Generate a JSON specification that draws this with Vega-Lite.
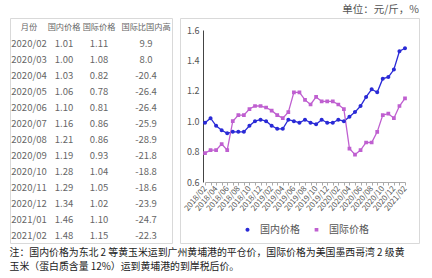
{
  "$schema": "https://vega.github.io/schema/vega-lite/v6.json",
  "padding": {"left": 9, "top": 4, "right": 0, "bottom": 0},
  "background": "white",
  "config": {
    "font": "Noto Sans CJK SC",
    "view": {"stroke": "#d9d9d9", "strokeWidth": 1}
  },
  "title": {
    "text": ["注：国内价格为东北 2 等黄玉米运到广州黄埔港的平仓价，国际价格为美国墨西哥湾 2 级黄", "玉米（蛋白质含量 12%）运到黄埔港的到岸税后价。"],
    "orient": "bottom", "anchor": "start", "fontSize": 9.9, "fontWeight": "normal",
    "color": "#222", "lineHeight": 14, "offset": 4, "font": "Noto Sans CJK SC"
  },
  "datasets": {
    "table": [
      {"month": "月份", "domestic": "国内价格", "intl": "国际价格", "diff": "国际比国内高"},
      {"month": "2020/02", "domestic": "1.01", "intl": "1.11", "diff": "9.9"},
      {"month": "2020/03", "domestic": "1.00", "intl": "1.08", "diff": "8.0"},
      {"month": "2020/04", "domestic": "1.03", "intl": "0.82", "diff": "-20.4"},
      {"month": "2020/05", "domestic": "1.06", "intl": "0.78", "diff": "-26.4"},
      {"month": "2020/06", "domestic": "1.10", "intl": "0.81", "diff": "-26.4"},
      {"month": "2020/07", "domestic": "1.16", "intl": "0.86", "diff": "-25.9"},
      {"month": "2020/08", "domestic": "1.21", "intl": "0.86", "diff": "-28.9"},
      {"month": "2020/09", "domestic": "1.19", "intl": "0.93", "diff": "-21.8"},
      {"month": "2020/10", "domestic": "1.28", "intl": "1.04", "diff": "-18.8"},
      {"month": "2020/11", "domestic": "1.29", "intl": "1.05", "diff": "-18.6"},
      {"month": "2020/12", "domestic": "1.34", "intl": "1.02", "diff": "-23.9"},
      {"month": "2021/01", "domestic": "1.46", "intl": "1.10", "diff": "-24.7"},
      {"month": "2021/02", "domestic": "1.48", "intl": "1.15", "diff": "-22.3"}
    ],
    "prices": [
      {"month": "2018/02", "series": "国内价格", "price": 0.99},
      {"month": "2018/03", "series": "国内价格", "price": 1.02},
      {"month": "2018/04", "series": "国内价格", "price": 0.97},
      {"month": "2018/05", "series": "国内价格", "price": 0.94},
      {"month": "2018/06", "series": "国内价格", "price": 0.92},
      {"month": "2018/07", "series": "国内价格", "price": 0.93},
      {"month": "2018/08", "series": "国内价格", "price": 0.93},
      {"month": "2018/09", "series": "国内价格", "price": 0.93},
      {"month": "2018/10", "series": "国内价格", "price": 0.97},
      {"month": "2018/11", "series": "国内价格", "price": 1.00},
      {"month": "2018/12", "series": "国内价格", "price": 1.01},
      {"month": "2019/01", "series": "国内价格", "price": 1.00},
      {"month": "2019/02", "series": "国内价格", "price": 0.97},
      {"month": "2019/03", "series": "国内价格", "price": 0.95},
      {"month": "2019/04", "series": "国内价格", "price": 0.95},
      {"month": "2019/05", "series": "国内价格", "price": 1.01},
      {"month": "2019/06", "series": "国内价格", "price": 1.00},
      {"month": "2019/07", "series": "国内价格", "price": 0.99},
      {"month": "2019/08", "series": "国内价格", "price": 1.01},
      {"month": "2019/09", "series": "国内价格", "price": 0.99},
      {"month": "2019/10", "series": "国内价格", "price": 0.98},
      {"month": "2019/11", "series": "国内价格", "price": 1.01},
      {"month": "2019/12", "series": "国内价格", "price": 0.99},
      {"month": "2020/01", "series": "国内价格", "price": 0.99},
      {"month": "2020/02", "series": "国内价格", "price": 1.01},
      {"month": "2020/03", "series": "国内价格", "price": 1.00},
      {"month": "2020/04", "series": "国内价格", "price": 1.03},
      {"month": "2020/05", "series": "国内价格", "price": 1.06},
      {"month": "2020/06", "series": "国内价格", "price": 1.10},
      {"month": "2020/07", "series": "国内价格", "price": 1.16},
      {"month": "2020/08", "series": "国内价格", "price": 1.21},
      {"month": "2020/09", "series": "国内价格", "price": 1.19},
      {"month": "2020/10", "series": "国内价格", "price": 1.28},
      {"month": "2020/11", "series": "国内价格", "price": 1.29},
      {"month": "2020/12", "series": "国内价格", "price": 1.34},
      {"month": "2021/01", "series": "国内价格", "price": 1.46},
      {"month": "2021/02", "series": "国内价格", "price": 1.48},
      {"month": "2018/02", "series": "国际价格", "price": 0.79},
      {"month": "2018/03", "series": "国际价格", "price": 0.81},
      {"month": "2018/04", "series": "国际价格", "price": 0.81},
      {"month": "2018/05", "series": "国际价格", "price": 0.85},
      {"month": "2018/06", "series": "国际价格", "price": 0.81},
      {"month": "2018/07", "series": "国际价格", "price": 1.00},
      {"month": "2018/08", "series": "国际价格", "price": 1.04},
      {"month": "2018/09", "series": "国际价格", "price": 1.04},
      {"month": "2018/10", "series": "国际价格", "price": 1.08},
      {"month": "2018/11", "series": "国际价格", "price": 1.10},
      {"month": "2018/12", "series": "国际价格", "price": 1.10},
      {"month": "2019/01", "series": "国际价格", "price": 1.09},
      {"month": "2019/02", "series": "国际价格", "price": 1.07},
      {"month": "2019/03", "series": "国际价格", "price": 1.04},
      {"month": "2019/04", "series": "国际价格", "price": 1.02},
      {"month": "2019/05", "series": "国际价格", "price": 1.06},
      {"month": "2019/06", "series": "国际价格", "price": 1.19},
      {"month": "2019/07", "series": "国际价格", "price": 1.19},
      {"month": "2019/08", "series": "国际价格", "price": 1.14},
      {"month": "2019/09", "series": "国际价格", "price": 1.11},
      {"month": "2019/10", "series": "国际价格", "price": 1.16},
      {"month": "2019/11", "series": "国际价格", "price": 1.13},
      {"month": "2019/12", "series": "国际价格", "price": 1.13},
      {"month": "2020/01", "series": "国际价格", "price": 1.13},
      {"month": "2020/02", "series": "国际价格", "price": 1.11},
      {"month": "2020/03", "series": "国际价格", "price": 1.08},
      {"month": "2020/04", "series": "国际价格", "price": 0.82},
      {"month": "2020/05", "series": "国际价格", "price": 0.78},
      {"month": "2020/06", "series": "国际价格", "price": 0.81},
      {"month": "2020/07", "series": "国际价格", "price": 0.86},
      {"month": "2020/08", "series": "国际价格", "price": 0.86},
      {"month": "2020/09", "series": "国际价格", "price": 0.93},
      {"month": "2020/10", "series": "国际价格", "price": 1.04},
      {"month": "2020/11", "series": "国际价格", "price": 1.05},
      {"month": "2020/12", "series": "国际价格", "price": 1.02},
      {"month": "2021/01", "series": "国际价格", "price": 1.10},
      {"month": "2021/02", "series": "国际价格", "price": 1.15}
    ]
  },
  "spacing": 6,
  "hconcat": [
    {
      "width": 162,
      "height": 225,
      "title": {"text": " ", "fontSize": 10.5, "anchor": "end", "offset": 3},
      "data": {"name": "table"},
      "encoding": {
        "y": {"field": "month", "type": "ordinal", "sort": null,
              "scale": {"type": "point", "range": [10, 218], "padding": 0}, "axis": null},
        "size": {"condition": {"test": "datum.month === '月份'", "value": 8.2}, "value": 9.5}
      },
      "layer": [
        {
          "mark": {"type": "text", "color": "#666"},
          "encoding": {
            "x": {"datum": "月份", "type": "nominal",
                  "scale": {"type": "point", "domain": ["月份", "国内价格", "国际价格", "国际比国内高"], "range": [19, 136], "padding": 0},
                  "axis": null},
            "text": {"field": "month"}
          }
        },
        {
          "mark": {"type": "text", "color": "#666", "dx": -4},
          "encoding": {
            "x": {"datum": "国内价格", "type": "nominal"},
            "text": {"field": "domestic"}
          }
        },
        {
          "mark": {"type": "text", "color": "#666", "dx": -8},
          "encoding": {
            "x": {"datum": "国际价格", "type": "nominal"},
            "text": {"field": "intl"}
          }
        },
        {
          "mark": {"type": "text", "color": "#666"},
          "encoding": {
            "x": {"datum": "国际比国内高", "type": "nominal"},
            "text": {"field": "diff"}
          }
        }
      ]
    },
    {
      "width": 239,
      "height": 225,
      "title": {"text": "单位：元/斤，%", "anchor": "end", "fontSize": 10.5, "fontWeight": "normal", "color": "#555", "offset": 3},
      "data": {"name": "prices"},
      "encoding": {
        "x": {
          "field": "month", "type": "ordinal", "sort": null,
          "scale": {"type": "point", "range": [25, 225], "padding": 0},
          "axis": {
            "orient": "bottom", "offset": -61, "title": null, "labelAngle": -50,
            "labelFontSize": 8, "labelColor": "#555", "tickSize": 3, "tickColor": "#aaa",
            "domainColor": "#aaa", "labelOverlap": false, "grid": false, "labelPadding": 2,
            "labelExpr": "toNumber(slice(datum.value, 5)) % 2 == 0 ? datum.value : ''"
          }
        },
        "y": {
          "field": "price", "type": "quantitative",
          "scale": {"domain": [0.6, 1.6], "range": [164, 12], "nice": false, "zero": false},
          "axis": {
            "orient": "left", "offset": -23, "values": [0.6, 0.8, 1.0, 1.2, 1.4, 1.6],
            "format": ".1f", "tickSize": 0, "labelPadding": 4, "domainColor": "#444",
            "grid": false, "title": null, "labelFontSize": 9, "labelColor": "#555"
          }
        }
      },
      "layer": [
        {
          "transform": [{"filter": "datum.series === '国内价格'"}],
          "mark": {"type": "line", "strokeWidth": 1.3, "color": "#2a2ad6"}
        },
        {
          "transform": [{"filter": "datum.series === '国际价格'"}],
          "mark": {"type": "line", "strokeWidth": 1.3, "color": "#bf5fd0"}
        },
        {
          "mark": {"type": "point", "filled": true, "size": 220, "opacity": 1},
          "encoding": {
            "color": {
              "field": "series", "type": "nominal",
              "scale": {"domain": ["国内价格", "国际价格"], "range": ["#2a2ad6", "#bf5fd0"]},
              "legend": {
                "title": null, "orient": "none", "legendX": 229, "legendY": 203,
                "direction": "horizontal", "labelFontSize": 10, "labelColor": "#555",
                "symbolSize": 220, "columnPadding": 8, "labelOffset": 4,
                "encode": {"symbols": {"update": {"stroke": {"scale": "color", "field": "value"}, "strokeWidth": {"value": 1.3}}}}
              }
            },
            "shape": {
              "field": "series", "type": "nominal",
              "scale": {"domain": ["国内价格", "国际价格"],
                        "range": ["M-1,0H1M-0.27,0A0.27,0.27,0,1,1,0.27,0A0.27,0.27,0,1,1,-0.27,0Z", "M-1,0H1M-0.25,-0.25H0.25V0.25H-0.25Z"]}
            }
          }
        }
      ]
    }
  ]
}
